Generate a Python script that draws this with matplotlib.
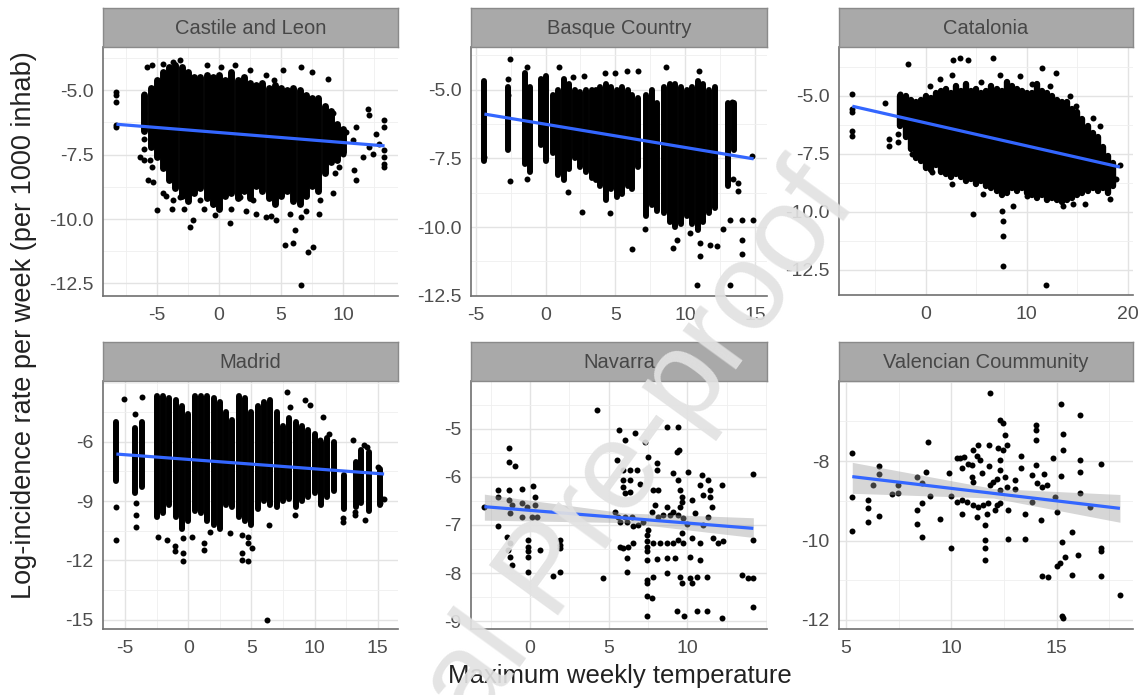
import matplotlib
matplotlib.use("Agg")
import matplotlib.pyplot as plt
from matplotlib.ticker import MultipleLocator, FormatStrFormatter

plt.rcParams['font.family'] = ['Liberation Sans', 'DejaVu Sans']
plt.rcParams['axes.unicode_minus'] = False

# ---- data ----------------------------------------------------------------
regions = ["Castile and Leon", "Basque Country", "Catalonia",
           "Madrid", "Navarra", "Valencian Coummunity"]

# dense point columns: x, top y, bottom y
castile_cols_x = [-6.0, -5.5, -5.0, -4.5, -4.0, -3.5, -3.0, -2.5, -2.0, -1.5, -1.0, -0.5, 0.0,
                  0.5, 1.0, 1.5, 2.0, 2.5, 3.0, 3.5, 4.0, 4.5, 5.0, 5.5, 6.0, 6.5, 7.0, 7.5,
                  8.0, 8.5, 9.0, 9.5, 10.0]
castile_cols_top = [-5.2, -4.9, -4.6, -4.3, -4.1, -4.0, -4.1, -4.3, -4.5, -4.5, -4.4, -4.5, -4.4,
                    -4.6, -4.3, -4.6, -4.5, -4.7, -4.8, -4.7, -4.9, -4.8, -4.9, -5.0, -4.9, -5.0,
                    -5.2, -5.3, -5.3, -5.6, -5.8, -6.3, -6.5]
castile_cols_bot = [-6.6, -7.2, -7.6, -8.0, -8.5, -8.8, -9.1, -9.3, -9.0, -8.8, -9.2, -9.4, -9.6,
                    -9.1, -9.0, -9.2, -8.9, -9.2, -8.7, -8.9, -9.2, -9.4, -9.1, -8.9, -9.3, -9.4,
                    -9.1, -8.7, -8.9, -8.2, -7.8, -7.7, -7.4]
castile_pts = [(-8.29, -5.06), (-8.29, -5.19), (-8.29, -5.45), (-8.29, -6.36), (-8.29, -6.42),
               (-5.8, -4.1), (-5.4, -4.03), (-4.47, -3.97), (-3.66, -3.9), (-3.13, -3.81),
               (-5.0, -9.66), (-5.27, -8.56), (-4.47, -9.0), (-2.33, -10.3), (-2.06, -10.05),
               (-0.32, -9.85), (0.88, -10.15), (1.28, -4.03), (5.16, -4.22), (6.63, -4.1),
               (4.57, -10.05), (5.3, -11.0), (5.96, -10.95), (6.1, -10.43), (6.63, -9.92),
               (7.17, -11.27), (7.57, -11.08), (6.63, -12.57), (8.05, -9.79), (8.1, -9.27),
               (9.17, -8.98), (8.77, -4.55), (10.24, -6.62), (10.78, -6.94), (11.04, -6.42),
               (11.04, -8.49), (10.9, -8.1), (11.98, -5.71), (12.11, -5.97), (12.06, -7.2),
               (12.65, -6.68), (12.9, -7.07), (13.3, -6.16), (13.3, -6.42), (13.3, -7.33),
               (13.3, -7.59), (13.3, -7.98), (13.3, -7.85), (11.6, -7.59), (12.4, -7.46),
               (9.2, -5.9), (9.45, -6.4), (9.7, -6.94), (9.97, -7.46), (9.7, -7.98), (9.3, -8.23),
               (2.75, -9.27), (1.68, -9.14), (-0.45, -9.4), (-1.52, -9.27), (-3.13, -9.14),
               (-3.66, -9.27), (3.82, -9.92), (3.0, -9.79), (-6.07, -5.13), (-6.07, -5.5),
               (-6.07, -5.9), (-6.07, -6.3), (-6.07, -6.9), (-6.07, -7.3), (-6.07, -7.7),
               (-6.34, -7.59), (-5.53, -7.72), (-5.67, -8.49), (-5.4, -7.98), (2.5, -4.2),
               (3.8, -4.4), (-1.0, -4.0), (0.2, -4.1), (7.5, -4.3), (4.4, -4.6), (1.0, -9.6),
               (2.2, -9.7), (4.2, -9.9), (5.7, -9.8), (7.0, -9.7), (-1.2, -9.6), (-2.8, -9.6),
               (-3.8, -9.6), (-4.3, -9.1)]

basque_cols_x = [-4.4, -2.7, -1.5, -1.1, -0.3, 0.0, 0.5, 0.9, 1.3, 1.7, 2.1, 2.5, 2.9, 3.3, 3.6,
                 3.9, 4.3, 4.7, 5.1, 5.5, 5.9, 6.2, 6.6, 7.2, 7.6, 8.0, 8.5, 8.9, 9.3, 9.7, 10.1,
                 10.5, 10.9, 11.3, 11.7, 12.1, 13.1, 13.5]
basque_cols_top = [-4.7, -4.9, -4.4, -4.9, -4.6, -4.5, -5.2, -5.0, -4.6, -4.8, -5.0, -5.1, -5.0,
                   -5.0, -5.0, -4.9, -4.8, -4.9, -5.0, -4.9, -5.0, -5.2, -5.3, -5.2, -5.0, -5.5,
                   -4.9, -4.8, -4.8, -4.9, -5.0, -4.9, -4.7, -4.8, -5.0, -4.9, -5.5, -5.5]
basque_cols_bot = [-7.6, -7.2, -7.7, -8.0, -7.0, -7.6, -7.3, -8.1, -8.3, -7.9, -7.5, -7.8, -8.0,
                   -8.2, -8.3, -8.5, -9.0, -8.6, -8.9, -8.8, -8.5, -8.6, -7.8, -9.6, -9.2, -9.4,
                   -9.5, -9.8, -10.0, -9.9, -9.6, -9.9, -10.1, -9.8, -9.5, -9.3, -8.5, -7.2]
basque_pts = [(-2.54, -3.88), (-1.35, -4.18), (0.97, -4.18), (1.99, -4.55), (2.76, -4.51),
              (4.26, -4.39), (4.98, -4.39), (5.81, -4.34), (6.65, -4.31), (8.63, -4.18),
              (10.99, -4.31), (-2.54, -8.33), (-1.35, -8.26), (1.63, -8.73), (2.59, -9.46),
              (4.62, -9.48), (6.17, -10.8), (7.12, -10.09), (9.15, -10.76), (9.39, -10.46),
              (10.35, -10.21), (11.06, -9.73), (11.06, -11.07), (11.06, -10.58), (11.78, -10.64),
              (12.26, -10.7), (12.73, -10.09), (13.21, -9.73), (14.05, -9.73), (14.88, -9.73),
              (14.05, -10.46), (14.05, -11.0), (10.82, -12.1), (13.21, -12.1), (14.76, -7.41),
              (13.8, -8.39), (13.8, -8.69), (13.45, -8.26), (13.33, -5.46), (13.33, -6.56),
              (-4.4, -7.45), (-2.7, -5.2), (-2.7, -4.6)]

catalonia_cols_x = [-2.5, -2.0, -1.5, -1.0, -0.5, 0.0, 0.5, 1.0, 1.5, 2.0, 2.5, 3.0, 3.5, 4.0,
                    4.5, 5.0, 5.5, 6.0, 6.5, 7.0, 7.5, 8.0, 8.5, 9.0, 9.5, 10.0, 10.5, 11.0,
                    11.5, 12.0, 12.5, 13.0, 13.5, 14.0, 14.5, 15.0, 15.5, 16.0, 16.5, 17.0,
                    17.5, 18.0, 18.5]
catalonia_cols_top = [-5.0, -5.0, -5.2, -5.3, -5.2, -5.0, -5.1, -4.9, -4.8, -4.7, -4.9, -4.6,
                      -4.8, -4.5, -4.8, -4.7, -4.9, -4.8, -4.6, -4.7, -4.8, -4.4, -4.6, -4.7,
                      -4.8, -4.9, -4.9, -4.5, -4.8, -4.9, -5.0, -5.2, -5.3, -5.3, -5.6, -5.7,
                      -6.0, -6.3, -6.6, -6.8, -7.2, -7.6, -7.9]
catalonia_cols_bot = [-6.3, -6.8, -7.3, -7.7, -7.8, -8.1, -8.2, -8.0, -8.3, -8.4, -8.5, -8.4,
                      -8.5, -8.7, -8.6, -8.8, -8.7, -8.9, -9.0, -9.1, -9.3, -9.2, -9.0, -9.1,
                      -9.0, -9.2, -9.3, -9.4, -9.3, -9.5, -9.4, -9.5, -9.6, -9.5, -9.4, -9.3,
                      -9.2, -9.1, -9.0, -9.1, -9.0, -9.2, -8.9]
catalonia_pts = [(-7.26, -4.93), (-7.26, -5.58), (-7.26, -5.72), (-7.26, -6.52), (-7.26, -6.73),
                 (-4.0, -5.32), (-3.68, -6.88), (-3.68, -7.16), (-2.7, -7.02), (-2.7, -6.66),
                 (-1.38, -7.53), (-1.71, -3.63), (2.73, -3.48), (3.39, -3.38), (4.21, -3.48),
                 (6.68, -3.38), (11.45, -3.82), (12.93, -4.02), (4.64, -10.12), (7.5, -9.98),
                 (7.66, -10.41), (7.66, -11.06), (7.66, -12.32), (11.88, -13.15), (8.65, -9.76),
                 (9.97, -9.33), (2.57, -8.82), (0.59, -8.29), (5.69, -9.26), (13.59, -9.76),
                 (14.57, -9.69), (15.72, -9.65), (18.19, -9.47), (19.18, -7.99), (16.55, -5.98),
                 (17.2, -6.3), (14.24, -5.0), (14.9, -5.43), (9.3, -4.16), (7.34, -4.13),
                 (2.57, -4.1), (1.41, -4.28), (0.43, -4.6), (5.5, -4.4), (10.5, -4.5),
                 (12.3, -4.6), (-2.5, -4.95), (18.8, -8.6)]

madrid_cols_x = [-5.7, -4.2, -3.7, -2.5, -2.0, -1.5, -1.0, -0.5, 0.0, 0.5, 1.0, 1.5, 2.0, 2.5,
                 3.0, 3.5, 4.0, 4.5, 5.0, 5.5, 6.0, 6.5, 7.0, 7.5, 8.0, 8.5, 9.0, 9.5, 10.0,
                 10.5, 11.0, 11.5, 12.3, 13.3, 13.7, 14.3, 15.2]
madrid_cols_top = [-5.0, -5.3, -5.0, -3.7, -3.7, -3.8, -3.9, -4.2, -4.6, -3.7, -3.7, -3.7, -3.8,
                   -4.0, -4.5, -4.9, -3.7, -3.8, -4.5, -4.2, -4.0, -3.9, -4.5, -5.2, -4.8, -5.0,
                   -5.2, -5.4, -5.6, -6.0, -5.8, -6.0, -7.7, -7.0, -6.4, -6.5, -7.4]
madrid_cols_bot = [-8.0, -8.6, -8.3, -9.8, -9.6, -9.2, -9.8, -10.4, -10.0, -9.5, -9.6, -10.0,
                   -10.2, -10.4, -9.2, -9.3, -9.8, -10.0, -10.2, -9.4, -9.0, -9.2, -9.3, -9.0,
                   -8.9, -9.3, -9.0, -8.8, -8.6, -9.2, -8.8, -8.5, -9.4, -9.3, -9.1, -9.5, -9.2]
madrid_pts = [(-5.71, -10.97), (-5.08, -3.81), (-5.71, -9.28), (-4.13, -10.29), (-4.13, -9.11),
              (-4.13, -9.7), (-2.36, -10.8), (-1.7, -10.97), (-1.04, -11.3), (-1.04, -11.55),
              (-0.38, -12.06), (-0.38, -11.64), (-0.38, -10.88), (0.28, -10.8), (1.25, -11.47),
              (1.25, -11.13), (1.73, -10.55), (3.31, -10.63), (4.23, -10.71), (4.23, -11.64),
              (4.23, -11.98), (4.76, -12.06), (4.76, -11.13), (4.76, -10.8), (5.03, -11.38),
              (6.21, -15.0), (6.35, -10.21), (8.46, -9.7), (7.8, -3.47), (8.06, -4.24),
              (9.25, -3.9), (9.64, -4.14), (10.7, -4.74), (12.28, -9.87), (12.28, -10.04),
              (13.2, -9.54), (13.2, -9.7), (14.0, -9.96), (13.87, -6.17), (14.13, -6.25),
              (15.18, -9.11), (15.18, -8.78), (15.05, -7.26), (13.07, -5.92), (11.1, -5.58),
              (10.4, -5.92), (-3.7, -3.75), (-4.2, -4.6), (15.5, -8.9)]

navarra_pts = [(-2.9, -6.62), (-2.01, -6.28), (-2.01, -6.41), (-2.01, -7.03), (-1.33, -5.4),
               (-1.33, -5.69), (-0.95, -5.78), (-1.33, -6.28), (-1.33, -6.48), (-1.17, -6.59),
               (-1.27, -6.76), (-0.53, -6.26), (-0.53, -6.55), (-0.53, -6.84), (0.21, -6.19),
               (0.32, -6.41), (0.32, -6.59), (0.42, -6.83), (0.11, -6.83), (-0.21, -6.62),
               (-1.27, -7.38), (-1.38, -7.52), (-1.27, -7.66), (-1.17, -7.83), (-1.48, -7.24),
               (-0.11, -7.31), (-0.11, -7.45), (-0.11, -7.55), (-0.11, -7.66), (-0.11, -7.97),
               (0.64, -7.52), (1.48, -8.06), (1.91, -7.97), (1.91, -7.31), (1.91, -7.41),
               (1.91, -7.48), (4.28, -4.62), (4.66, -8.1), (6.14, -7.97), (5.68, -5.03),
               (6.04, -5.24), (6.67, -5.09), (7.31, -5.28), (8.69, -4.97), (9.39, -4.97),
               (9.32, -5.48), (9.5, -5.45), (5.55, -5.66), (5.93, -5.86), (6.36, -5.86),
               (6.78, -5.86), (7.52, -5.59), (8.05, -5.72), (8.05, -5.86), (5.93, -6.07),
               (5.93, -6.21), (6.04, -6.34), (6.36, -6.07), (6.36, -6.31), (6.99, -6.14),
               (7.84, -6.28), (8.15, -6.28), (9.11, -5.93), (9.43, -6.07), (9.53, -6.28),
               (9.64, -6.41), (10.06, -5.9), (10.28, -6.48), (10.91, -5.97), (10.81, -6.17),
               (11.02, -6.38), (11.33, -6.07), (11.44, -6.28), (11.44, -6.41), (11.55, -6.62),
               (12.22, -6.17), (14.15, -5.94), (5.4, -6.72), (5.61, -6.83), (5.72, -6.93),
               (6.04, -6.83), (6.14, -6.93), (6.46, -6.83), (6.57, -7.03), (6.88, -7.0),
               (7.2, -6.93), (7.52, -7.1), (7.73, -6.72), (7.94, -6.59), (8.15, -6.83),
               (8.47, -6.79), (8.69, -6.62), (8.9, -6.79), (9.11, -6.72), (9.43, -6.79),
               (9.53, -6.62), (9.64, -6.52), (9.75, -6.86), (9.96, -6.97), (10.49, -6.76),
               (11.02, -7.0), (11.33, -6.83), (5.72, -7.45), (5.93, -7.48), (6.25, -7.45),
               (6.57, -7.38), (7.42, -7.21), (7.42, -7.34), (7.42, -7.45), (7.42, -7.55),
               (7.84, -7.38), (8.26, -7.38), (8.69, -7.38), (9.11, -7.38), (9.43, -7.31),
               (9.75, -7.38), (9.64, -7.17), (10.28, -7.28), (10.81, -7.38), (11.65, -7.28),
               (11.97, -7.38), (12.29, -7.34), (6.14, -7.69), (7.42, -7.72), (8.05, -7.71),
               (8.69, -7.69), (9.22, -7.69), (10.17, -7.66), (10.81, -7.72), (7.42, -8.14),
               (7.42, -8.21), (7.84, -8.07), (8.69, -7.99), (9.53, -8.07), (9.64, -8.21),
               (10.17, -8.1), (10.28, -8.21), (10.59, -8.07), (11.23, -8.07), (7.42, -8.48),
               (7.73, -8.52), (7.42, -8.9), (9.32, -8.79), (9.79, -8.9), (10.59, -8.79),
               (11.23, -8.79), (12.18, -8.93), (13.45, -8.03), (13.88, -8.1), (14.15, -8.1),
               (14.15, -7.31), (14.15, -8.7)]

valencia_pts = [(5.27, -7.79), (5.27, -8.9), (5.27, -9.76), (6.06, -8.98), (6.06, -9.17),
                (6.06, -9.53), (6.58, -8.13), (6.58, -8.33), (6.3, -8.61), (6.58, -9.38),
                (7.17, -8.83), (7.45, -8.81), (7.45, -8.6), (8.35, -8.39), (8.39, -9.23),
                (8.39, -9.58), (8.59, -9.9), (8.59, -8.56), (8.59, -9.06), (8.78, -8.27),
                (8.88, -7.51), (8.99, -8.87), (9.46, -9.47), (9.89, -8.29), (9.98, -8.87),
                (9.98, -10.2), (10.25, -7.93), (10.41, -7.93), (10.62, -7.89), (10.49, -8.18),
                (10.49, -8.98), (10.49, -9.32), (10.25, -9.02), (10.73, -9.02), (10.81, -8.06),
                (10.97, -8.39), (10.97, -8.1), (11.04, -7.72), (11.2, -7.87), (11.28, -7.6),
                (11.36, -7.97), (11.44, -8.31), (11.04, -8.52), (11.04, -9.11), (11.2, -9.4),
                (11.28, -9.15), (11.52, -9.11), (11.6, -9.61), (11.6, -9.99), (11.6, -10.2),
                (11.6, -10.49), (11.68, -9.32), (11.76, -9.06), (11.84, -6.28), (11.8, -7.6),
                (11.8, -8.13), (11.84, -8.6), (12.0, -8.52), (12.15, -8.44), (12.23, -7.68),
                (12.31, -6.97), (12.47, -7.05), (12.55, -7.33), (12.47, -7.71), (12.63, -7.6),
                (12.31, -7.97), (12.31, -8.23), (12.55, -8.39), (12.63, -8.65), (12.31, -8.73),
                (12.07, -9.23), (12.15, -9.11), (12.31, -9.06), (12.71, -9.23), (12.71, -9.95),
                (13.02, -8.48), (13.02, -8.69), (13.31, -7.87), (13.31, -8.16), (13.5, -9.32),
                (13.5, -9.95), (13.81, -9.02), (14.0, -7.08), (14.0, -7.22), (14.0, -7.47),
                (14.0, -8.1), (13.84, -8.35), (14.05, -8.56), (14.29, -8.65), (14.41, -8.33),
                (14.53, -8.6), (14.25, -9.48), (14.29, -10.89), (14.6, -10.93), (14.81, -7.92),
                (14.92, -8.9), (15.0, -9.27), (15.19, -8.38), (15.2, -6.55), (15.32, -7.32),
                (15.32, -7.71), (15.0, -10.64), (15.16, -10.57), (15.24, -10.03), (15.24, -11.9),
                (15.32, -11.96), (15.4, -10.41), (15.71, -9.78), (15.71, -10.87), (16.03, -10.36),
                (16.11, -6.84), (16.11, -7.97), (16.11, -8.28), (16.11, -8.81), (17.09, -8.08),
                (17.09, -10.2), (17.09, -10.26), (17.09, -10.89), (18.0, -11.37), (16.58, -9.15)]

# linear fit (geom_smooth) read at its ends, with the grey band
castile_fit_x, castile_fit_y = [-8.25, 13.33], [-6.32, -7.16]
basque_fit_x, basque_fit_y = [-4.38, 14.9], [-5.89, -7.52]
catalonia_fit_x, catalonia_fit_y = [-7.26, 19.2], [-5.46, -8.08]
madrid_fit_x, madrid_fit_y = [-5.69, 15.5], [-6.62, -7.63]
navarra_fit_x, navarra_fit_y = [-2.9, 14.2], [-6.62, -7.07]
navarra_band_x = [-2.9, 6.0, 14.2]
navarra_band_lo = [-6.9, -6.95, -7.26]
navarra_band_hi = [-6.36, -6.75, -6.85]
valencia_fit_x, valencia_fit_y = [5.3, 18.0], [-8.39, -9.19]
valencia_band_x = [5.3, 12.0, 18.0]
valencia_band_lo = [-8.81, -8.93, -9.54]
valencia_band_hi = [-8.03, -8.69, -8.84]

panels = [
    dict(cols=(castile_cols_x, castile_cols_top, castile_cols_bot), col_lw=5.0, pts=castile_pts,
         fit=(castile_fit_x, castile_fit_y), band=None,
         xlim=(-9.33, 14.41), ylim=(-12.99, -3.32), xt=[-5, 0, 5, 10], yt=[-5, -7.5, -10, -12.5],
         yfmt='%.1f'),
    dict(cols=(basque_cols_x, basque_cols_top, basque_cols_bot), col_lw=4.3, pts=basque_pts,
         fit=(basque_fit_x, basque_fit_y), band=None,
         xlim=(-5.34, 15.86), ylim=(-12.51, -3.45), xt=[-5, 0, 5, 10, 15], yt=[-5, -7.5, -10, -12.5],
         yfmt='%.1f'),
    dict(cols=(catalonia_cols_x, catalonia_cols_top, catalonia_cols_bot), col_lw=4.6,
         pts=catalonia_pts, fit=(catalonia_fit_x, catalonia_fit_y), band=None,
         xlim=(-8.58, 20.5), ylim=(-13.59, -2.91), xt=[0, 10, 20], yt=[-5, -7.5, -10, -12.5],
         yfmt='%.1f'),
    dict(cols=(madrid_cols_x, madrid_cols_top, madrid_cols_bot), col_lw=4.3, pts=madrid_pts,
         fit=(madrid_fit_x, madrid_fit_y), band=None,
         xlim=(-6.75, 16.6), ylim=(-15.48, -2.92), xt=[-5, 0, 5, 10, 15], yt=[-6, -9, -12, -15],
         yfmt='%d'),
    dict(cols=None, col_lw=0, pts=navarra_pts,
         fit=(navarra_fit_x, navarra_fit_y), band=(navarra_band_x, navarra_band_lo, navarra_band_hi),
         xlim=(-3.75, 15.07), ylim=(-9.16, -4.01), xt=[0, 5, 10], yt=[-5, -6, -7, -8, -9],
         yfmt='%d'),
    dict(cols=None, col_lw=0, pts=valencia_pts,
         fit=(valencia_fit_x, valencia_fit_y), band=(valencia_band_x, valencia_band_lo, valencia_band_hi),
         xlim=(4.67, 18.62), ylim=(-12.23, -5.98), xt=[5, 10, 15], yt=[-8, -10, -12],
         yfmt='%d'),
]

# ---- layout (pixel boxes of the 1139x695 picture) -------------------------
W, H = 1139, 695
boxes = [(103, 47, 398, 296), (471, 47, 767, 296), (839, 47, 1133, 295),
         (103, 381, 398, 629), (471, 381, 767, 629), (839, 381, 1133, 629)]
strip_h = 39


def px_rect(x0, y0, x1, y1):
    return [x0 / W, 1 - y1 / H, (x1 - x0) / W, (y1 - y0) / H]


fig = plt.figure(figsize=(W / 100, H / 100), dpi=100)

dot = 4.3
for name, p, (x0, y0, x1, y1) in zip(regions, panels, boxes):
    ax = fig.add_axes(px_rect(x0, y0, x1, y1))
    ax.set_xlim(*p['xlim'])
    ax.set_ylim(*p['ylim'])
    ax.set_xticks(p['xt'])
    ax.set_yticks(p['yt'])
    xstep = p['xt'][1] - p['xt'][0]
    ystep = abs(p['yt'][1] - p['yt'][0])
    ax.xaxis.set_minor_locator(MultipleLocator(xstep / 2))
    ax.yaxis.set_minor_locator(MultipleLocator(ystep / 2))
    ax.yaxis.set_major_formatter(FormatStrFormatter(p['yfmt']))
    ax.grid(True, which='major', color='#e3e3e3', lw=1.0, zorder=0)
    ax.grid(True, which='minor', color='#efefef', lw=0.6, zorder=0)
    ax.set_axisbelow(True)
    for s in ['top', 'right']:
        ax.spines[s].set_visible(False)
    for s in ['left', 'bottom']:
        ax.spines[s].set_color('#6f6f6f')
        ax.spines[s].set_linewidth(1.2)
    ax.tick_params(which='both', length=0, labelsize=14, colors='#4d4d4d')
    ax.tick_params(axis='x', pad=8)
    ax.tick_params(axis='y', pad=7)

    if p['cols'] is not None:
        cx, ct, cb = p['cols']
        ax.vlines(cx, cb, ct, colors='black', linewidth=p['col_lw'], capstyle='round', zorder=2)
    px = [a for a, b in p['pts']]
    py = [b for a, b in p['pts']]
    ax.plot(px, py, 'o', color='black', ms=dot, mew=0, zorder=2)

    if p['band'] is not None:
        bx, lo, hi = p['band']
        ax.fill_between(bx, lo, hi, color='#999999', alpha=0.4, lw=0, zorder=3)
    fx, fy = p['fit']
    ax.plot(fx, fy, color='#3366FF', lw=2.3, zorder=4, solid_capstyle='butt')

    # facet strip
    sax = fig.add_axes(px_rect(x0, y0 - strip_h, x1, y0))
    sax.set_facecolor('#a9a9a9')
    sax.set_xticks([])
    sax.set_yticks([])
    for s in sax.spines.values():
        s.set_color('#8a8a8a')
        s.set_linewidth(1.0)
    sax.text(0.5, 0.48, name, ha='center', va='center', fontsize=14.5, color='#474747',
             transform=sax.transAxes)

fig.text(24 / W, 1 - 325 / H, "Log-incidence rate per week (per 1000 inhab)", rotation=90,
         ha='center', va='center', fontsize=19.5, color='#222222')
fig.text(620 / W, 1 - 683 / H, "Maximum weekly temperature", ha='center', va='baseline',
         fontsize=18.5, color='#222222')

# "Journal Pre-proof" watermark
fig.text(549 / W, 1 - 573 / H, "Journal Pre-proof", rotation=54, rotation_mode='anchor',
         ha='center', va='center', fontsize=90, color='#e2e2e2', alpha=0.92, zorder=10)

fig.savefig("out.png", dpi=100)
